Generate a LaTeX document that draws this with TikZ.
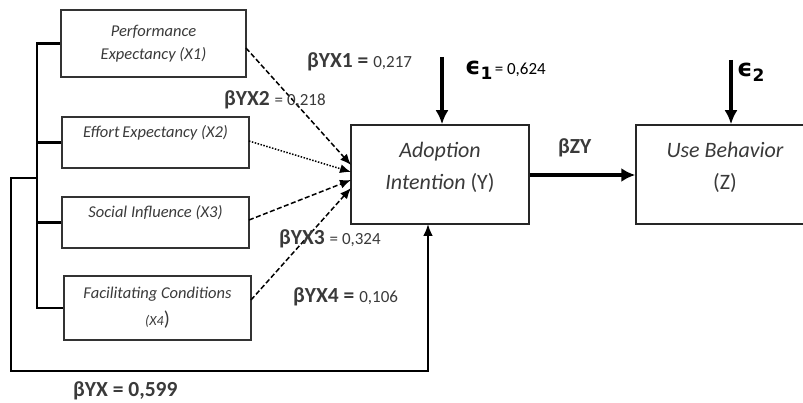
\documentclass[tikz,border=0pt]{standalone}
\usepackage{fontspec}
\setmainfont{Carlito}
\newfontfamily\dejavu{DejaVu Sans}
\usetikzlibrary{arrows.meta}
\definecolor{txtgray}{HTML}{3A3A3A}
\tikzset{
  xbox/.style={draw=black!80, line width=1.5pt, fill=white, font=\fontsize{16.5}{18}\selectfont\itshape, text=txtgray, align=center, inner sep=0pt},
  bigbox/.style={draw=black!85, line width=1.5pt, fill=white, minimum width=178pt, minimum height=99pt, font=\fontsize{22}{32}\selectfont, text=txtgray, align=center, inner sep=0pt},
  bracket/.style={line width=2.6pt, black},
  inarrow/.style={line width=1.5pt, -{Latex[length=11pt,width=9pt]}},
  fatarrow/.style={line width=3.2pt, -{Latex[length=14pt,width=13pt]}},
  coef/.style={anchor=west, inner sep=0pt, text=txtgray},
  bb/.style={font=\fontsize{21.5}{24}\selectfont\bfseries},
}
\newcommand{\smallnum}[1]{{\fontsize{17}{18}\selectfont\mdseries #1}}
\begin{document}
\begin{tikzpicture}[x=1pt,y=-1pt]
\clip (0,0) rectangle (803,403);
\fill[white] (0,0) rectangle (803,403);
% boxes
\node[xbox, minimum width=185pt, minimum height=67pt] (X1) at (153.5,43.5) {Performance\\[5pt]Expectancy (X1)};
\node[xbox, minimum width=187pt, minimum height=51pt] (X2) at (155.5,142.5) {Effort\,Expectancy (X2)\\[5pt]};
\node[xbox, minimum width=187pt, minimum height=51pt] (X3) at (155.5,222.5) {Social Influence (X3)\\[5pt]};
\node[xbox, minimum width=187pt, minimum height=64pt] (X4) at (157.5,308) {Facilitating Conditions\\[9pt]{\fontsize{14}{16}\selectfont (X4}{\upshape\fontsize{20}{20}\selectfont )}};
\node[bigbox] (Y) at (440,174.5) {\itshape Adoption\\\itshape Intention {\upshape (Y)}\\[-14pt]};
\node[bigbox] (Z) at (725,174.5) {\itshape Use Behavior\\(Z)\\[-14pt]};
% bracket
\coordinate (bk) at (37,0);
\coordinate (lp) at (11,178);
\coordinate (bot) at (11,371);
\coordinate (yin) at (428,224);
\draw[bracket] (X1.west) -| (bk |- X4.west) -- (X4.west);
\draw[bracket] (X2.west) -- (bk |- X2.west);
\draw[bracket] (X3.west) -- (bk |- X3.west);
% outer loop
\draw[line width=2.6pt, -{Latex[length=12pt,width=10pt]}] (bk |- lp) -- (lp) -- (bot) -- (bot -| yin) -- (yin);
% arrows into Y
\coordinate (s1) at (246,48);
\coordinate (s2) at (249,141);
\coordinate (s3) at (249,220);
\coordinate (s4) at (251,300);
\coordinate (t1) at (351,165);
\coordinate (t2) at (351,172);
\coordinate (t3) at (351,180);
\coordinate (t4) at (351,188);
\draw[inarrow, dash pattern=on 5pt off 2.5pt] (s1) -- (t1);
\draw[inarrow, dash pattern=on 1.5pt off 1.5pt] (s2) -- (t2);
\draw[inarrow, dash pattern=on 5pt off 2.5pt] (s3) -- (t3);
\draw[inarrow, dash pattern=on 5pt off 2.5pt] (s4) -- (t4);
% Y -> Z
\draw[line width=4pt, -{Latex[length=14pt,width=14pt]}] (Y.east |- 0,175) -- (Z.west |- 0,175);
% error arrows
\coordinate (e1) at (442,57);
\coordinate (e2) at (731,60);
\draw[fatarrow] (e1) -- (Y.north -| e1);
\draw[fatarrow] (e2) -- (Z.north -| e2);
% labels
\node[coef, bb] (c1) at (307,62) {βYX1 = \smallnum{0,217}};
\node[coef, bb] (c2) at (224,100) {βYX2 \smallnum{= 0,218}};
\node[coef, bb] (c3) at (279,239) {βYX3 \smallnum{= 0,324}};
\node[coef, bb] (c4) at (293,297) {βYX4 = \smallnum{0,106}};
\node[coef, bb] (c5) at (73,391) {βYX = 0,599};
\node[coef, bb] (c6) at (558,148) {βZY};
\node[coef, text=black] (ep1) at (465,70) {{\dejavu\bfseries\fontsize{24}{26}\selectfont ϵ\raisebox{-5pt}{\fontsize{17}{18}\selectfont 1}} \smallnum{= 0,624}};
\node[coef, text=black] (ep2) at (737,72) {{\dejavu\bfseries\fontsize{24}{26}\selectfont ϵ\raisebox{-5pt}{\fontsize{17}{18}\selectfont 2}}};
\end{tikzpicture}
\end{document}
